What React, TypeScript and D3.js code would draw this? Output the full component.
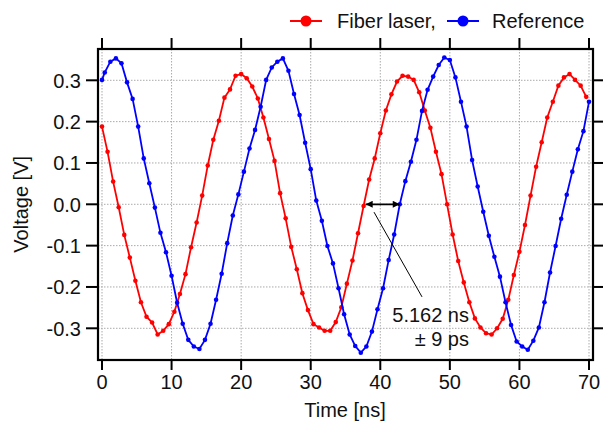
import React from 'react';
import * as d3 from 'd3';

const xTicks = [0, 10, 20, 30, 40, 50, 60, 70];
const yTicks = [-0.3, -0.2, -0.1, 0, 0.1, 0.2, 0.3];
const yTickLabels = ['-0.3', '-0.2', '-0.1', '0.0', '0.1', '0.2', '0.3'];

const sampleStep = 0.8;
const fiberStart = 0;
const fiberVoltage = [
  0.188, 0.127, 0.055, -0.007, -0.074, -0.129, -0.185, -0.237, -0.272, -0.286,
  -0.315, -0.306, -0.29, -0.26, -0.217, -0.169, -0.104, -0.044, 0.021, 0.094,
  0.156, 0.202, 0.258, 0.278, 0.311, 0.315, 0.305, 0.285, 0.256, 0.21,
  0.158, 0.105, 0.027, -0.034, -0.103, -0.157, -0.215, -0.256, -0.29, -0.298,
  -0.306, -0.306, -0.285, -0.249, -0.192, -0.136, -0.07, -0.004, 0.06, 0.111,
  0.172, 0.227, 0.266, 0.297, 0.311, 0.309, 0.301, 0.271, 0.227, 0.185,
  0.127, 0.073, 0.0, -0.073, -0.137, -0.189, -0.237, -0.276, -0.298, -0.312,
  -0.315, -0.3, -0.277, -0.231, -0.171, -0.115, -0.05, 0.021, 0.091, 0.15,
  0.21, 0.248, 0.287, 0.307, 0.315, 0.301, 0.287, 0.26,
];

const referenceFirstTime = 0;
const referenceStart = 0.4;
const referenceVoltage = [
  0.301,
  0.319, 0.345, 0.353, 0.341, 0.295, 0.255, 0.188, 0.111, 0.051, -0.008,
  -0.069, -0.116, -0.173, -0.238, -0.289, -0.328, -0.344, -0.35, -0.328, -0.289,
  -0.231, -0.168, -0.094, -0.027, 0.024, 0.079, 0.135, 0.18, 0.236, 0.301,
  0.331, 0.345, 0.353, 0.323, 0.267, 0.216, 0.149, 0.085, 0.009, -0.04,
  -0.101, -0.143, -0.203, -0.266, -0.315, -0.343, -0.359, -0.344, -0.308, -0.254,
  -0.203, -0.135, -0.073, 0.0, 0.056, 0.103, 0.156, 0.226, 0.277, 0.309,
  0.337, 0.355, 0.349, 0.307, 0.248, 0.188, 0.107, 0.043, -0.018, -0.076,
  -0.127, -0.175, -0.237, -0.292, -0.332, -0.344, -0.352, -0.33, -0.298, -0.237,
  -0.165, -0.101, -0.035, 0.023, 0.079, 0.133, 0.177, 0.248,
];

const legendLabels = ['Fiber laser,', 'Reference'];
const delayLabel = '5.162 ns';
const errorLabel = '± 9 ps';
const arrowFrom = 37.9;
const arrowTo = 42.8;
const pointerFrom = [39.1, -0.019];
const pointerTo = [46.0, -0.224];

const RED = '#ff0000';
const BLUE = '#0000ff';
const FONT = '"Liberation Sans", Arial, Helvetica, sans-serif';

export default function App() {
  const W = 605;
  const H = 424;
  const x = d3.scaleLinear().domain([0, 70]).range([102, 589]);
  const y = d3.scaleLinear().domain([-0.3, 0.3]).range([328.3, 80.3]);
  const frame = { left: 98, right: 593, top: 49, bottom: 360 };

  const fiber = fiberVoltage.map((v, i) => [fiberStart + i * sampleStep, v] as [number, number]);
  const reference = referenceVoltage.map((v, i) =>
    [i === 0 ? referenceFirstTime : referenceStart + (i - 1) * sampleStep, v] as [number, number]
  );

  const line = d3
    .line<[number, number]>()
    .x((d) => x(d[0]))
    .y((d) => y(d[1]));

  const tickLen = 11;
  const fs = 20;

  const series = [
    { data: fiber, color: RED },
    { data: reference, color: BLUE },
  ];

  return (
    <svg
      width={W}
      height={H}
      style={{ position: 'absolute', left: 0, top: 0, background: '#fff' }}
      fontFamily={FONT}
    >
      <defs>
        <marker id="ah" viewBox="0 0 10 10" refX="10" refY="5" markerWidth="9" markerHeight="7" orient="auto-start-reverse" markerUnits="userSpaceOnUse">
          <path d="M0,0 L10,5 L0,10 z" fill="#000" />
        </marker>
      </defs>
      <rect x={0} y={0} width={W} height={H} fill="#fff" />
      {/* grid */}
      {xTicks.map((t) => (
        <line key={'gx' + t} x1={x(t)} x2={x(t)} y1={frame.top} y2={frame.bottom} stroke="#aaa" strokeWidth={1} strokeDasharray="1.5,1.5" />
      ))}
      {yTicks.map((t) => (
        <line key={'gy' + t} x1={frame.left} x2={frame.right} y1={y(t)} y2={y(t)} stroke="#aaa" strokeWidth={1} strokeDasharray="1.5,1.5" />
      ))}
      {/* series */}
      {series.map((s, si) => (
        <g key={si}>
          <path d={line(s.data) || ''} fill="none" stroke={s.color} strokeWidth={1.8} />
          {s.data.map((d, i) => (
            <circle key={i} cx={x(d[0])} cy={y(d[1])} r={2.3} fill={s.color} />
          ))}
        </g>
      ))}
      {/* annotation */}
      <line
        x1={x(arrowFrom)}
        x2={x(arrowTo)}
        y1={y(0)}
        y2={y(0)}
        stroke="#000"
        strokeWidth={1.8}
        markerStart="url(#ah)"
        markerEnd="url(#ah)"
      />
      <line x1={x(pointerFrom[0])} y1={y(pointerFrom[1])} x2={x(pointerTo[0])} y2={y(pointerTo[1])} stroke="#000" strokeWidth={1} />
      <text x={469} y={322} fontSize={fs} textAnchor="end" fill="#111">{delayLabel}</text>
      <text x={469} y={346} fontSize={fs} textAnchor="end" fill="#111">{errorLabel}</text>
      {/* frame */}
      <rect x={frame.left} y={frame.top} width={frame.right - frame.left} height={frame.bottom - frame.top} fill="none" stroke="#000" strokeWidth={2.2} />
      {/* ticks */}
      {xTicks.map((t) => (
        <g key={'tx' + t}>
          <line x1={x(t)} x2={x(t)} y1={frame.bottom} y2={frame.bottom + 10} stroke="#000" strokeWidth={2} />
          <line x1={x(t)} x2={x(t)} y1={frame.top} y2={frame.top - tickLen} stroke="#000" strokeWidth={2} />
          <text x={x(t)} y={389} fontSize={fs} textAnchor="middle" fill="#111">{t}</text>
        </g>
      ))}
      {yTicks.map((t, i) => (
        <g key={'ty' + t}>
          <line x1={frame.left} x2={frame.left - 12} y1={y(t)} y2={y(t)} stroke="#000" strokeWidth={2} />
          <line x1={frame.right} x2={frame.right + 10} y1={y(t)} y2={y(t)} stroke="#000" strokeWidth={2} />
          <text x={81} y={y(t)} dy="0.36em" fontSize={fs} textAnchor="end" fill="#111">{yTickLabels[i]}</text>
        </g>
      ))}
      {/* axis titles */}
      <text x={345} y={417} fontSize={fs} textAnchor="middle" fill="#111">Time [ns]</text>
      <text transform={`translate(28,${y(0)}) rotate(-90)`} fontSize={fs} textAnchor="middle" fill="#111">Voltage [V]</text>
      {/* legend */}
      <g>
        <line x1={290} x2={322} y1={21} y2={21} stroke={RED} strokeWidth={2} />
        <circle cx={306} cy={21} r={5.5} fill={RED} />
        <text x={337} y={21} dy="0.36em" fontSize={fs} fill="#111">{legendLabels[0]}</text>
        <line x1={447} x2={479} y1={21} y2={21} stroke={BLUE} strokeWidth={2} />
        <circle cx={463} cy={21} r={5.5} fill={BLUE} />
        <text x={492} y={21} dy="0.36em" fontSize={fs} fill="#111">{legendLabels[1]}</text>
      </g>
    </svg>
  );
}
